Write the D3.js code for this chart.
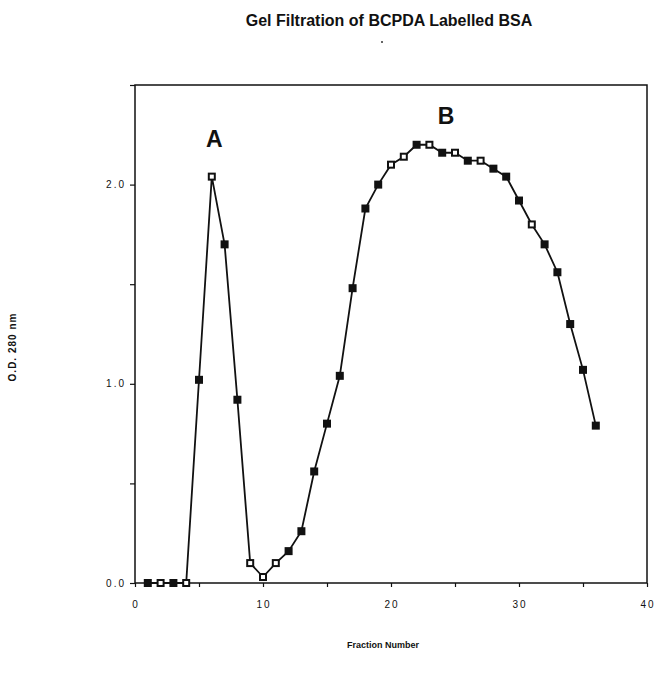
<!DOCTYPE html>
<html lang="en">
<head>
	<meta charset="UTF-8">
	<title>Gel Filtration of BCPDA Labelled BSA</title>
	<style>
		body { margin: 0; background: #fff; }
		svg text { font-family: "Liberation Sans", Arial, sans-serif; fill: #111; }
		.tick-label { font-size: 10px; letter-spacing: 2px; }
	</style>
</head>
<body>
<svg class="chart"></svg>
<script src="https://d3js.org/d3.v7.min.js"></script>
<script type="text/javascript">
	// fraction numbers and O.D. 280 nm readings
	var fractions = [1, 2, 3, 4, 5, 6, 7, 8, 9, 10, 11, 12, 13, 14, 15, 16, 17, 18,
		19, 20, 21, 22, 23, 24, 25, 26, 27, 28, 29, 30, 31, 32, 33, 34, 35, 36];
	var od280 = [0.0, 0.0, 0.0, 0.0, 1.02, 2.04, 1.70, 0.92, 0.10, 0.03, 0.10, 0.16,
		0.26, 0.56, 0.80, 1.04, 1.48, 1.88, 2.00, 2.10, 2.14, 2.20, 2.20, 2.16,
		2.16, 2.12, 2.12, 2.08, 2.04, 1.92, 1.80, 1.70, 1.56, 1.30, 1.07, 0.79];
	// fractions drawn with an open marker
	var openFractions = [2, 4, 6, 9, 10, 11, 20, 21, 23, 25, 27, 31];
	var xTicks = [0, 10, 20, 30, 40];
	var yTicks = [0, 1, 2];
	var peaks = [{ label: "A", x: 6.2, y: 2.19 }, { label: "B", x: 24.3, y: 2.305 }];

	(function chart() {
		var width = 655,
		    height = 676,
		    pLeft = 135, pRight = 647, pTop = 85, pBottom = 583;

		var svg = d3.select(".chart")
		    .attr("width", width)
		    .attr("height", height);

		var x = d3.scaleLinear().domain([0, 40]).range([pLeft, pRight]);
		var y = d3.scaleLinear().domain([0, 2.5]).range([pBottom, pTop]);

		// frame
		svg.append("rect")
		    .attr("x", pLeft).attr("y", pTop)
		    .attr("width", pRight - pLeft).attr("height", pBottom - pTop)
		    .attr("fill", "none").attr("stroke", "#111").attr("stroke-width", 1.5);

		// x axis
		var xAxis = svg.append("g")
		    .attr("transform", "translate(0," + pBottom + ")")
		    .call(d3.axisBottom(x).tickValues(d3.range(0, 41, 5)).tickSize(4).tickFormat(""));
		xAxis.select(".domain").remove();
		xAxis.selectAll("line").attr("stroke", "#111").attr("stroke-width", 1.2);

		svg.selectAll(".xlab")
		    .data(xTicks)
		    .enter().append("text")
		    .attr("class", "tick-label")
		    .attr("x", function(d) { return x(d) + 1; })
		    .attr("y", pBottom + 25)
		    .attr("text-anchor", "middle")
		    .text(function(d) { return d; });

		// y axis
		var yAxis = svg.append("g")
		    .attr("transform", "translate(" + pLeft + ",0)")
		    .call(d3.axisLeft(y).tickValues(d3.range(0, 2.51, 0.5)).tickSize(5).tickFormat(""));
		yAxis.select(".domain").remove();
		yAxis.selectAll("line").attr("stroke", "#111").attr("stroke-width", 1.2);

		svg.selectAll(".ylab")
		    .data(yTicks)
		    .enter().append("text")
		    .attr("class", "tick-label")
		    .attr("x", pLeft - 9)
		    .attr("y", function(d) { return y(d); })
		    .attr("dy", ".35em")
		    .attr("text-anchor", "end")
		    .text(function(d) { return d.toFixed(1); });

		// line
		var data = fractions.map(function(f, i) { return { f: f, v: od280[i] }; });

		svg.append("path")
		    .datum(data)
		    .attr("fill", "none")
		    .attr("stroke", "#111")
		    .attr("stroke-width", 1.8)
		    .attr("d", d3.line().x(function(d) { return x(d.f); }).y(function(d) { return y(d.v); }));

		// markers
		var s = 8;
		svg.selectAll(".pt")
		    .data(data)
		    .enter().append("rect")
		    .attr("x", function(d) { return x(d.f) - s / 2; })
		    .attr("y", function(d) { return y(d.v) - s / 2; })
		    .attr("width", s).attr("height", s)
		    .attr("fill", "#111");

		svg.selectAll(".hole")
		    .data(data.filter(function(d) { return openFractions.indexOf(d.f) >= 0; }))
		    .enter().append("rect")
		    .attr("x", function(d) { return x(d.f) - 2; })
		    .attr("y", function(d) { return y(d.v) - 2; })
		    .attr("width", 4).attr("height", 4)
		    .attr("fill", "#fff");

		// peak labels
		svg.selectAll(".peak")
		    .data(peaks)
		    .enter().append("text")
		    .attr("x", function(d) { return x(d.x); })
		    .attr("y", function(d) { return y(d.y); })
		    .attr("text-anchor", "middle")
		    .style("font-size", "23px")
		    .style("font-weight", "bold")
		    .text(function(d) { return d.label; });

		// titles
		svg.append("text")
		    .attr("x", 389).attr("y", 26)
		    .attr("text-anchor", "middle")
		    .style("font-size", "16px")
		    .style("font-weight", "bold")
		    .text("Gel Filtration of BCPDA Labelled BSA");

		svg.append("circle")
		    .attr("cx", 382).attr("cy", 42).attr("r", 1)
		    .attr("fill", "#333");

		svg.append("text")
		    .attr("x", 383).attr("y", 648)
		    .attr("text-anchor", "middle")
		    .style("font-size", "9px")
		    .style("font-weight", "bold")
		    .text("Fraction Number");

		svg.append("text")
		    .attr("transform", "translate(16,347) rotate(-90)")
		    .attr("text-anchor", "middle")
		    .style("font-size", "10px")
		    .style("font-weight", "bold")
		    .style("letter-spacing", "1px")
		    .text("O.D. 280 nm");
	})();
</script>
</body>
</html>
